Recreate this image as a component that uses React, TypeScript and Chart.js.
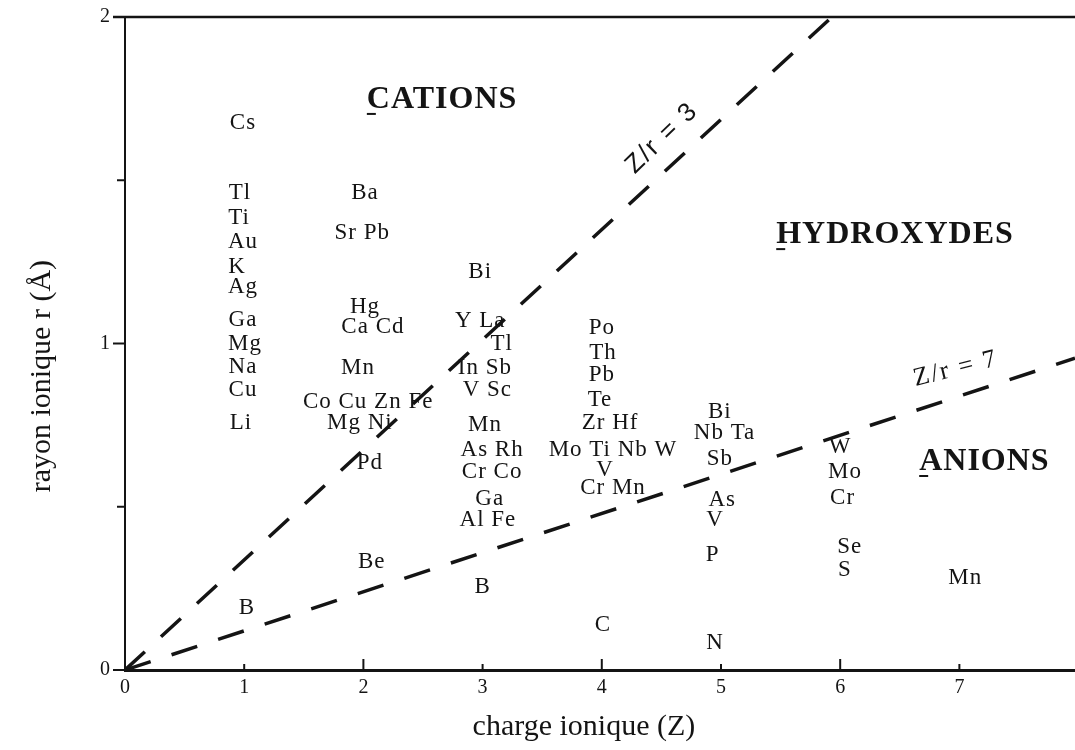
import React, { useEffect, useRef } from "react";
import { Chart, registerables } from "chart.js";

Chart.register(...registerables);

// ---------- data ----------
const xTickValues = [0, 1, 2, 3, 4, 5, 6, 7];
const yTickValues = [0, 0.5, 1, 1.5, 2];
const yTickLabelled = [0, 1, 2];

const xTitle = "charge ionique (Z)";
const yTitle = "rayon ionique r (Å)";

const elementNames = [
  "Cs", "Tl", "Ti", "Au", "K", "Ag", "Ga", "Mg", "Na", "Cu", "Li", "B",
  "Ba", "Sr Pb", "Hg", "Ca Cd", "Mn", "Co Cu Zn Fe", "Mg Ni", "Pd", "Be",
  "Bi", "Y La", "Tl", "In Sb", "V Sc", "Mn", "As Rh", "Cr Co", "Ga", "Al Fe", "B",
  "Po", "Th", "Pb", "Te", "Zr Hf", "Mo Ti Nb W", "V", "Cr Mn", "C",
  "Bi", "Nb Ta", "Sb", "As", "V", "P", "N",
  "W", "Mo", "Cr", "Se", "S",
  "Mn",
];
const elementZ = [
  0.99, 0.965, 0.956, 0.99, 0.94, 0.99, 0.99, 1.007, 0.99, 0.99, 0.973, 1.023,
  2.013, 1.99, 2.013, 2.08, 1.955, 2.04, 1.97, 2.055, 2.07,
  2.98, 2.98, 3.16, 3.02, 3.04, 3.02, 3.08, 3.08, 3.06, 3.045, 3.0,
  4.0, 4.01, 4.0, 3.985, 4.07, 4.094, 4.027, 4.094, 4.01,
  4.99, 5.03, 4.99, 5.01, 4.95, 4.93, 4.95,
  6.0, 6.04, 6.02, 6.08, 6.04,
  7.05,
];
const elementR = [
  1.675, 1.461, 1.384, 1.311, 1.234, 1.173, 1.072, 1.0, 0.928, 0.858, 0.757, 0.19,
  1.461, 1.338, 1.112, 1.05, 0.925, 0.821, 0.757, 0.634, 0.331,
  1.219, 1.07, 1.0, 0.925, 0.858, 0.75, 0.674, 0.606, 0.524, 0.459, 0.254,
  1.047, 0.971, 0.904, 0.827, 0.757, 0.674, 0.613, 0.557, 0.138,
  0.79, 0.727, 0.645, 0.52, 0.46, 0.352, 0.083,
  0.683, 0.606, 0.527, 0.377, 0.306,
  0.282,
];

const regionNames = ["CATIONS", "HYDROXYDES", "ANIONS"];
const regionZ = [2.66, 6.46, 7.21];
const regionR = [1.746, 1.332, 0.637];

const boundary3Z = [0, 5.93];
const boundary3R = [0, 2.0];
const boundary7Z = [0, 7.97];
const boundary7R = [0, 0.955];

const boundaryNames = ["Z/r = 3", "Z/r = 7"];
const boundaryLabelZ = [4.505, 6.97];
const boundaryLabelR = [1.629, 0.922];

// ---------- styles ----------
const INK = "#141414";
const SERIF = "'Liberation Serif', 'Times New Roman', serif";
const SANS = "'Liberation Sans', Arial, sans-serif";
const boundaryLabelAngle = [-44, -14];
const boundaryLabelFont = [`26px ${SANS}`, `26px ${SERIF}`];

const toPts = (xs: number[], ys: number[]) => xs.map((x, i) => ({ x, y: ys[i] }));

const annotationPlugin = {
  id: "annotationTexts",
  afterDatasetsDraw(chart: any) {
    const ctx: CanvasRenderingContext2D = chart.ctx;
    chart.data.datasets.forEach((ds: any, i: number) => {
      if (!ds.texts) return;
      const meta = chart.getDatasetMeta(i);
      meta.data.forEach((el: any, j: number) => {
        const { x, y } = el.getProps(["x", "y"], true);
        const text = ds.texts[j];
        ctx.save();
        ctx.fillStyle = INK;
        ctx.textAlign = "center";
        ctx.textBaseline = "middle";
        if (ds.kind === "element") {
          ctx.font = `23px ${SERIF}`;
          (ctx as any).letterSpacing = "1px";
          ctx.fillText(text, x, y);
        } else if (ds.kind === "region") {
          ctx.font = `bold 32px ${SERIF}`;
          (ctx as any).letterSpacing = "1px";
          ctx.fillText(text, x, y);
          const w = ctx.measureText(text).width;
          ctx.strokeStyle = INK;
          ctx.lineWidth = 2;
          ctx.beginPath();
          ctx.moveTo(x - w / 2, y + 14);
          ctx.lineTo(x - w / 2 + 9, y + 14);
          ctx.stroke();
        } else if (ds.kind === "boundary") {
          ctx.font = boundaryLabelFont[j];
          (ctx as any).letterSpacing = "2px";
          ctx.translate(x, y);
          ctx.rotate((boundaryLabelAngle[j] * Math.PI) / 180);
          ctx.fillText(text, 0, 0);
        }
        ctx.restore();
      });
    });
  },
  afterDraw(chart: any) {
    const ctx: CanvasRenderingContext2D = chart.ctx;
    const { left, right, top, bottom } = chart.chartArea;
    const xs = chart.scales.x;
    const ys = chart.scales.y;
    ctx.save();
    ctx.strokeStyle = INK;
    // top frame line
    ctx.lineWidth = 2.5;
    ctx.beginPath();
    ctx.moveTo(left - 12, top);
    ctx.lineTo(right, top);
    ctx.stroke();
    // outer y ticks (major longer than minor)
    ctx.lineWidth = 2;
    yTickValues.forEach((v) => {
      const py = ys.getPixelForValue(v);
      const len = yTickLabelled.includes(v) ? 12 : 8;
      ctx.beginPath();
      ctx.moveTo(left, py);
      ctx.lineTo(left - len, py);
      ctx.stroke();
    });
    // inner x ticks
    xTickValues.forEach((v) => {
      if (v === 0) return;
      const px = xs.getPixelForValue(v);
      const len = v % 2 === 0 ? 11 : 6;
      ctx.beginPath();
      ctx.moveTo(px, bottom);
      ctx.lineTo(px, bottom - len);
      ctx.stroke();
    });
    // axis titles
    ctx.fillStyle = INK;
    ctx.font = `30px ${SERIF}`;
    ctx.textAlign = "center";
    ctx.textBaseline = "middle";
    ctx.fillText(xTitle, xs.getPixelForValue(3.85), bottom + 57);
    ctx.translate(left - 83, ys.getPixelForValue(0.9));
    ctx.rotate(-Math.PI / 2);
    ctx.fillText(yTitle, 0, 0);
    ctx.restore();
  },
};

export default function App() {
  const ref = useRef<HTMLCanvasElement | null>(null);

  useEffect(() => {
    if (!ref.current) return;
    const dashed = {
      type: "line" as const,
      borderColor: INK,
      borderWidth: 3.5,
      borderDash: [27, 22],
      borderCapStyle: "butt" as const,
      pointRadius: 0,
      fill: false,
      tension: 0,
    };
    const chart = new Chart(ref.current, {
      type: "scatter",
      data: {
        datasets: [
          { ...dashed, label: boundaryNames[0], data: toPts(boundary3Z, boundary3R) },
          { ...dashed, label: boundaryNames[1], data: toPts(boundary7Z, boundary7R) },
          {
            label: "elements",
            data: toPts(elementZ, elementR),
            pointRadius: 0,
            texts: elementNames,
            kind: "element",
          } as any,
          {
            label: "regions",
            data: toPts(regionZ, regionR),
            pointRadius: 0,
            texts: regionNames,
            kind: "region",
          } as any,
          {
            label: "boundary labels",
            data: toPts(boundaryLabelZ, boundaryLabelR),
            pointRadius: 0,
            texts: boundaryNames,
            kind: "boundary",
          } as any,
        ],
      },
      options: {
        responsive: false,
        animation: false,
        devicePixelRatio: 1,
        events: [],
        layout: { padding: { top: 17, right: 0, left: 0, bottom: 0 } },
        plugins: { legend: { display: false }, tooltip: { enabled: false } },
        scales: {
          x: {
            type: "linear",
            min: 0,
            max: 7.97,
            afterBuildTicks: (s: any) => {
              s.ticks = xTickValues.map((v) => ({ value: v }));
            },
            afterFit: (s: any) => {
              s.height = 80;
            },
            ticks: {
              color: INK,
              font: { family: SERIF, size: 20 },
              padding: 6,
              autoSkip: false,
              maxRotation: 0,
              callback: (v: any) => String(v),
            },
            grid: { drawOnChartArea: false, drawTicks: false },
            border: { color: INK, width: 3 },
          },
          y: {
            type: "linear",
            min: 0,
            max: 2,
            afterBuildTicks: (s: any) => {
              s.ticks = yTickValues.map((v) => ({ value: v }));
            },
            afterFit: (s: any) => {
              s.width = 125;
            },
            ticks: {
              color: INK,
              font: { family: SERIF, size: 20 },
              padding: 3,
              autoSkip: false,
              callback: (v: any) => (yTickLabelled.includes(Number(v)) ? String(v) : ""),
            },
            grid: {
              drawOnChartArea: false,
              drawTicks: true,
              tickLength: 12,
              tickColor: "rgba(0,0,0,0)",
            },
            border: { color: INK, width: 2 },
          },
        },
      },
      plugins: [annotationPlugin],
    } as any);
    return () => chart.destroy();
  }, []);

  return (
    <div style={{ position: "fixed", left: 0, top: 0, width: 1075, height: 750, background: "#fff" }}>
      <canvas ref={ref} width={1075} height={750} />
    </div>
  );
}
